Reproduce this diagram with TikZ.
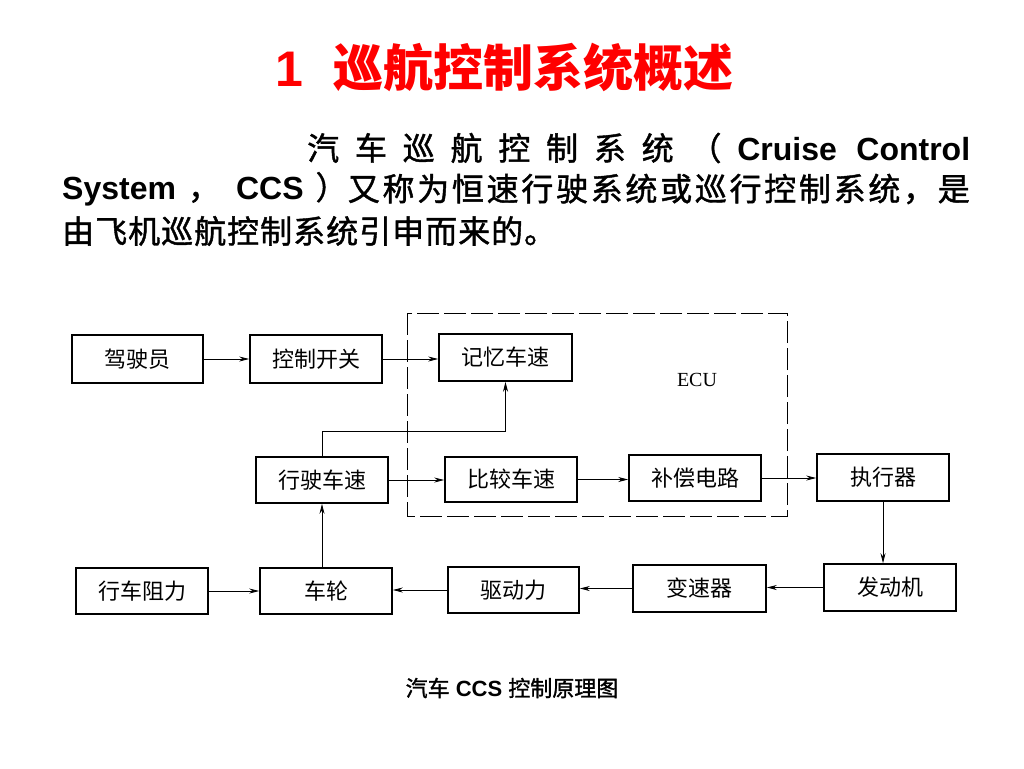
\documentclass[tikz,border=0pt]{standalone}
\usepackage{fontspec}
\setmainfont{Liberation Sans}
\newfontfamily\cjk{Noto Sans CJK SC}
\newfontfamily\cjkm[FakeBold=1.3]{Noto Sans CJK SC}
\newfontfamily\serifecu{Liberation Serif}
\usetikzlibrary{arrows.meta}
\begin{document}
\begin{tikzpicture}[x=1pt,y=-1pt,
  box/.style={draw, line width=1.6pt, inner sep=0pt, font=\cjk\fontsize{22}{26}\selectfont},
  arr/.style={line width=0.8pt, -{Stealth[length=10pt,width=5pt]}},
  para/.style={anchor=west, inner sep=0pt, font=\fontsize{32}{38}\selectfont},
  ecubox/.style={line width=0.9pt, dash pattern=on 22pt off 5pt}]
\useasboundingbox[fill=white] (0,0) rectangle (1024,768);

% title
\node[anchor=west, text=red, inner sep=0pt, font=\bfseries\fontsize{50}{56}\selectfont] (title) at (275,67)
  {1\hspace{30pt}{\cjk 巡航控制系统概述}};

% paragraph
\node[para] (p1) at (307,148)
  {\makebox[663pt][s]{\cjkm 汽 车 巡 航 控 制 系 统 （ \rmfamily\bfseries Cruise Control}};
\node[para] (p2a) at (62,189)
  {\bfseries System\hspace{12pt}{\cjkm\mdseries ，}\hspace{16pt}CCS\hspace{12pt}{\cjkm\mdseries ）}};
\node[para, anchor=east] (p2b) at (970,189)
  {\cjkm\makebox[622pt][s]{又\hfill 称\hfill 为\hfill 恒\hfill 速\hfill 行\hfill 驶\hfill 系\hfill 统\hfill 或\hfill 巡\hfill 行\hfill 控\hfill 制\hfill 系\hfill 统\hfill ，\hfill 是}};
\node[para] (p3) at (62,231)
  {\cjkm\makebox[494pt][s]{由\hfill 飞\hfill 机\hfill 巡\hfill 航\hfill 控\hfill 制\hfill 系\hfill 统\hfill 引\hfill 申\hfill 而\hfill 来\hfill 的\hfill 。}};

% ECU dashed region
\draw[ecubox] (407,313) rectangle (787,516);
\node[font=\serifecu\fontsize{20}{24}\selectfont] (ecu) at (697,380) {ECU};

% boxes
\node[box, minimum width=131pt, minimum height=48pt] (driver)   at (137.5,359) {驾驶员};
\node[box, minimum width=132pt, minimum height=48pt] (switch)   at (316,359)   {控制开关};
\node[box, minimum width=133pt, minimum height=47pt] (memory)   at (505.5,357.5) {记忆车速};
\node[box, minimum width=132pt, minimum height=46pt] (speed)    at (322,480)   {行驶车速};
\node[box, minimum width=132pt, minimum height=45pt] (compare)  at (511,479.5) {比较车速};
\node[box, minimum width=132pt, minimum height=46pt] (comp)     at (695,478)   {补偿电路};
\node[box, minimum width=132pt, minimum height=47pt] (actuator) at (883,477.5) {执行器};
\node[box, minimum width=132pt, minimum height=47pt] (engine)   at (890,587.5) {发动机};
\node[box, minimum width=133pt, minimum height=47pt] (gearbox)  at (699.5,588.5) {变速器};
\node[box, minimum width=131pt, minimum height=46pt] (drive)    at (513.5,590) {驱动力};
\node[box, minimum width=132pt, minimum height=46pt] (wheel)    at (326,591)   {车轮};
\node[box, minimum width=132pt, minimum height=46pt] (resist)   at (142,591)   {行车阻力};

% connectors
\draw[arr] (driver.east) -- (driver.east -| switch.west);
\draw[arr] (switch.east) -- (switch.east -| memory.west);
\draw[arr] (speed.north) -- ++(0,-25) -| (memory.south);
\draw[arr] (speed.east) -- (speed.east -| compare.west);
\draw[arr] (compare.east) -- (compare.east -| comp.west);
\draw[arr] (comp.east) -- (comp.east -| actuator.west);
\draw[arr] (actuator.south) -- (actuator.south |- engine.north);
\draw[arr] (engine.west) -- (engine.west -| gearbox.east);
\draw[arr] (gearbox.west) -- (gearbox.west -| drive.east);
\draw[arr] (drive.west) -- (drive.west -| wheel.east);
\draw[arr] (resist.east) -- (resist.east -| wheel.west);
\draw[arr] (speed.south |- wheel.north) -- (speed.south);

% caption
\node[font=\fontsize{22}{26}\selectfont] (caption) at (512,688)
  {{\cjkm 汽车} \textbf{CCS} {\cjkm 控制原理图}};
\end{tikzpicture}
\end{document}
